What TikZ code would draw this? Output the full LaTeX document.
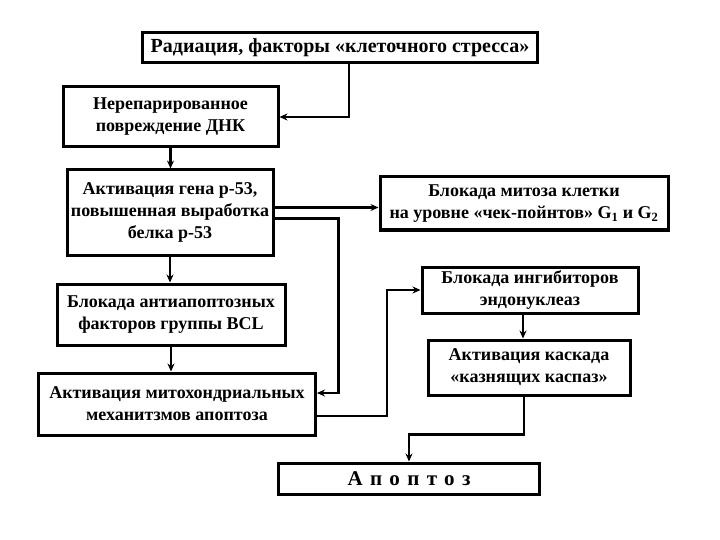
\documentclass[tikz,border=0pt]{standalone}
\usepackage{fontspec}
\setmainfont{Liberation Serif}
\usetikzlibrary{arrows.meta, calc}

\begin{document}
\begin{tikzpicture}[
      x=1pt, y=-1pt,
      every node/.style={draw, line width=3pt, align=center, inner sep=2pt,
        font=\fontsize{18}{22}\selectfont\bfseries},
      arr/.style={line width=2.6pt, -{Stealth[length=8pt,width=7pt]}}
  ]

  \useasboundingbox (0,0) rectangle (720,540);

  \begin{scope}[]
      \node [minimum width=395pt, minimum height=30pt,
        font=\fontsize{20}{22}\selectfont\bfseries] (Radiation) at (340,48)
        {Радиация, факторы «клеточного стресса»}; % top
      \node [minimum width=215pt, minimum height=60pt] (Damage) at (170.5,117)
        {Нерепарированное\\повреждение ДНК};
      \node [minimum width=206pt, minimum height=85pt] (P53) at (170,212.5)
        {Активация гена р-53,\\повышенная выработка\\белка р-53};
      \node [minimum width=288pt, minimum height=53pt] (Mitosis) at (524,203.5)
        {Блокада митоза клетки\\на уровне «чек-пойнтов» G\textsubscript{1} и G\textsubscript{2}};
      \node [minimum width=228pt, minimum height=61pt] (BCL) at (171,314.5)
        {Блокада антиапоптозных\\факторов группы BCL};
      \node [minimum width=277pt, minimum height=62pt] (Mito) at (177,404)
        {Активация митохондриальных\\механитзмов апоптоза};
      \node [minimum width=216pt, minimum height=46pt] (Endo) at (530,290)
        {Блокада ингибиторов\\эндонуклеаз};
      \node [minimum width=202pt, minimum height=55pt] (Caspase) at (529,367.5)
        {Активация каскада\\«казнящих каспаз»};
      \node [minimum width=261pt, minimum height=31pt,
        font=\fontsize{21}{22}\selectfont\bfseries\addfontfeature{LetterSpace=35}]
        (Apoptosis) at (409,478.5) {Апоптоз};
  \end{scope}

  \begin{scope}[every path/.style={arr}]
    \draw ([xshift=9pt]Radiation.south) |- (Damage.east);
    \draw (Damage.south) -- (Damage.south |- P53.north);
    \draw ([yshift=5pt]P53.east) -- ([yshift=5pt]P53.east -| Mitosis.west);
    \draw ([yshift=-6pt]P53.east) -- ++(64,0) |- ([yshift=11pt]Mito.east);
    \draw (P53.south) -- (P53.south |- BCL.north);
    \draw (BCL.south) -- (BCL.south |- Mito.north);
    \draw ([yshift=-12pt]Mito.east) -- ++(70,0) |- (Endo.west);
    \draw ([xshift=-7pt]Endo.south) -- ([xshift=-7pt]Endo.south |- Caspase.north);
    \draw ([xshift=-5pt]Caspase.south) -- ++(0,38) -| (Apoptosis.north);
  \end{scope}

\end{tikzpicture}
\end{document}
